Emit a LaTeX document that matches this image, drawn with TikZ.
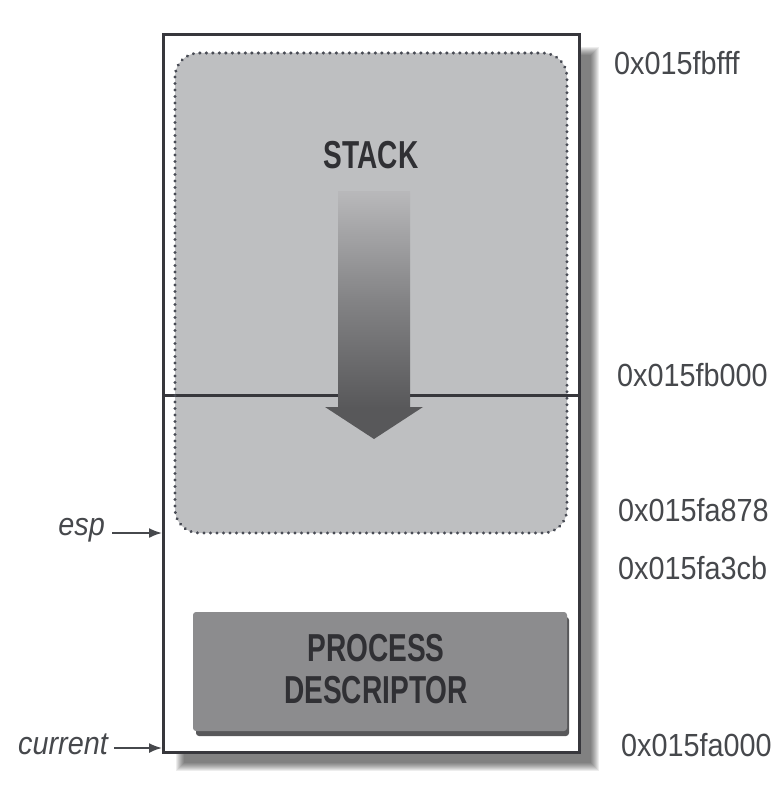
\documentclass[tikz,border=0pt]{standalone}
\usepackage{fontspec}
\setmainfont{Liberation Sans}
\usetikzlibrary{arrows.meta}

\definecolor{frameline}{RGB}{55,55,60}
\definecolor{stackfill}{RGB}{190,191,193}
\definecolor{dotcol}{RGB}{72,75,84}
\definecolor{pdfill}{RGB}{140,140,142}
\definecolor{pdshadow}{RGB}{88,88,90}
\definecolor{boldtext}{RGB}{48,48,52}
\definecolor{labeltext}{RGB}{70,72,76}
\definecolor{arrowdark}{RGB}{88,88,90}
\definecolor{arrowlight}{RGB}{184,184,186}

\tikzset{
  blocktext/.style={font=\fontsize{39}{40}\selectfont\bfseries, text=boldtext,
    xscale=0.72, inner sep=0pt, align=center},
  addr/.style={font=\fontsize{32}{34}\selectfont, text=labeltext, xscale=0.9,
    inner sep=0pt, anchor=west},
  regname/.style={font=\fontsize{32}{34}\selectfont\itshape, text=labeltext,
    xscale=0.9, inner sep=0pt, anchor=east},
  ptr/.style={draw=labeltext, line width=1.8pt,
    -{Latex[length=13pt,width=10pt]}},
  stackedge/.style={draw=dotcol, line width=3.2pt, line cap=round,
    dash pattern=on 0.1pt off 6.4pt, rounded corners=24pt},
}

\begin{document}
\begin{tikzpicture}[x=1pt,y=-1pt]
  \useasboundingbox (0,0) rectangle (776,791);
  \fill[white] (0,0) rectangle (776,791);

  % soft drop shadow of the memory area
  \foreach \k in {0,...,8}
    \fill[black, opacity=0.07] (176+\k,47+\k) rectangle (599-\k,771-\k);

  % memory area corners
  \coordinate (memTL) at (163,35);
  \coordinate (memBR) at (579,752);
  \fill[white] (memTL) rectangle (memBR);

  % stack region
  \fill[stackfill, rounded corners=24pt] (175,53) rectangle (567,533);

  % page boundary
  \coordinate (divL) at (163,395);
  \coordinate (divR) at (579,395);
  \draw[frameline, line width=3pt] (divL) -- (divR);

  \draw[stackedge] (175,53) rectangle (567,533);

  % growth direction of the stack
  \shade[top color=arrowlight, bottom color=arrowdark, middle color=arrowdark!55!arrowlight]
    (338,192) rectangle (410,408);
  \fill[arrowdark] (325,407) -- (423,407) -- (374,439) -- cycle;

  \node[blocktext] (stack) at (371,155) {STACK};

  % process descriptor
  \fill[pdshadow, rounded corners=3pt] (196,617) rectangle (569,736);
  \fill[pdfill, rounded corners=3pt] (193,612) rectangle (567,731);
  \node[blocktext] (pd1) at (376,648) {PROCESS};
  \node[blocktext] (pd2) at (376,690) {DESCRIPTOR};

  % frame of the memory area
  \draw[frameline, line width=3pt] (memTL) rectangle (memBR);

  % addresses
  \node[addr] (a1) at (614,63)  {0x015fbfff};
  \node[addr] (a2) at (617,375) {0x015fb000};
  \node[addr] (a3) at (618,510) {0x015fa878};
  \node[addr] (a4) at (618,568) {0x015fa3cb};
  \node[addr] (a5) at (621,745) {0x015fa000};

  % registers pointing into the area
  \node[regname] (esp) at (105,530) {esp};
  \coordinate (espT) at (162,533);
  \draw[ptr] (112,533) -- (espT);

  \node[regname] (cur) at (108,744) {current};
  \coordinate (curT) at (162,748);
  \draw[ptr] (114,748) -- (curT);
\end{tikzpicture}
\end{document}
